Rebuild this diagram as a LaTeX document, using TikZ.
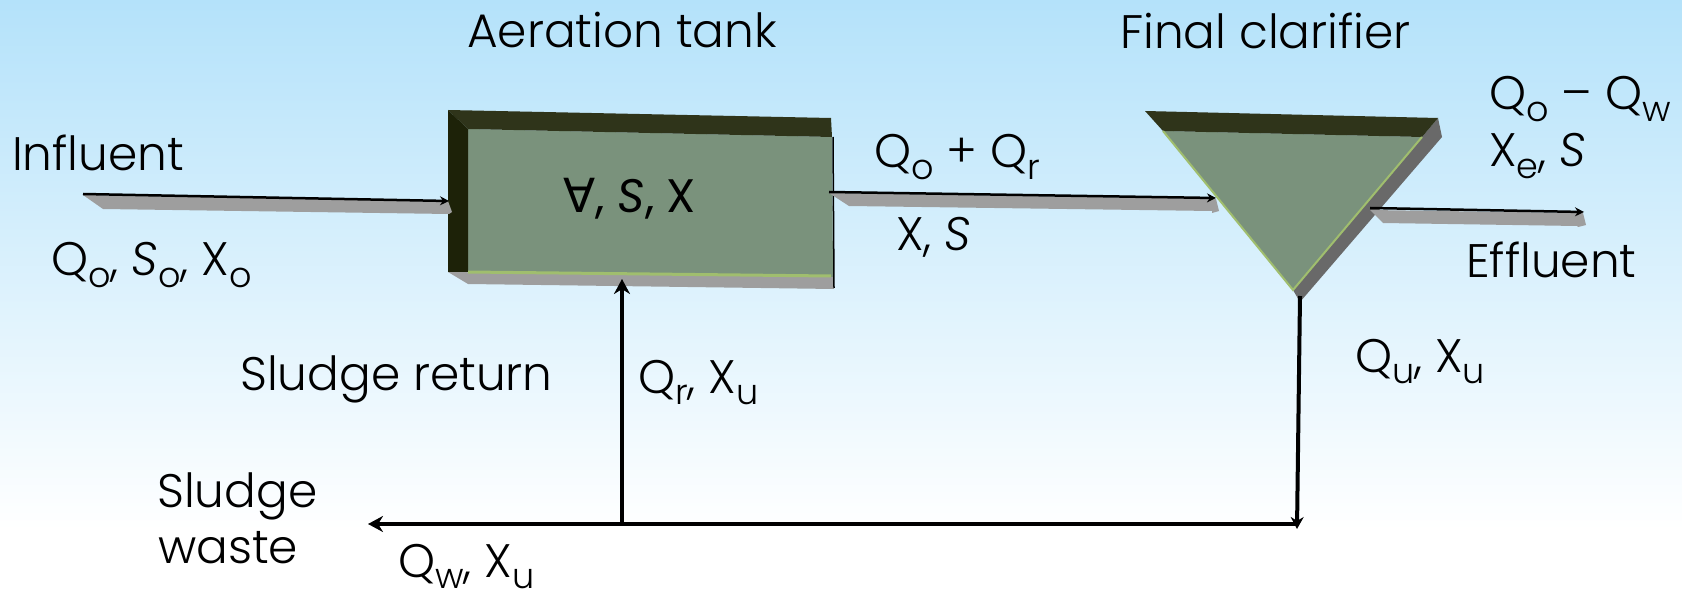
\documentclass[tikz,border=0pt]{standalone}
\usepackage{fontspec}
\setmainfont{Poppins}[UprightFont=* Light]
\newfontfamily\tankfont{Poppins}
\newfontfamily\allfont{DejaVu Sans}
\usepackage{tikz}
\usetikzlibrary{arrows.meta, calc}
\definecolor{skytop}{RGB}{180, 226, 250}
\definecolor{tankface}{RGB}{122, 146, 124}
\definecolor{tanktop}{RGB}{47, 52, 26}
\definecolor{tankside}{RGB}{29, 34, 8}
\definecolor{tankrim}{RGB}{160, 190, 110}
\definecolor{dropgray}{RGB}{158, 158, 158}
\definecolor{sidegray}{RGB}{105, 105, 105}
\newcommand{\lowtxt}[1]{\raisebox{-0.45ex}{\fontsize{35}{35}\selectfont #1}}
\tikzset{
  every node/.style={
    inner sep=0pt,
    anchor=base west,
    font=\fontsize{47}{47}\selectfont
  },
  thinflow/.style={
    -{Stealth[length=9pt,width=9pt]},
    line width=2.5pt,
    draw=black
  },
  thickflow/.style={
    -{Stealth[length=15pt,width=16pt]},
    line width=4pt,
    draw=black
  }
}

\begin{document}
\begin{tikzpicture}[x=1pt, y=-1pt]
  \useasboundingbox (0, 0) rectangle (1682, 596);
  % background
  \shade[top color=skytop, bottom color=white] (0, 0) rectangle (1682, 530);
  \fill[white] (0, 530) rectangle (1682, 596);

  % aeration tank
  \coordinate (tanktl) at (448, 110);
  \coordinate (tanktr) at (831, 118);
  \coordinate (tankbl) at (448, 272);
  \coordinate (tankbr) at (833, 277);
  \coordinate (tankil) at (468, 129);
  \coordinate (tankir) at (832, 137);
  \coordinate (tankjl) at (468, 272);
  \fill[dropgray] (tankbl) -- (468, 284) -- (834, 289) -- (tankbr) -- cycle;
  \fill[tankface] (tankil) -- (tankir) -- (tankbr) -- (tankjl) -- cycle;
  \fill[tanktop] (tanktl) -- (tanktr) -- (tankir) -- (tankil) -- cycle;
  \fill[tankside] (tanktl) -- (tankil) -- (tankjl) -- (tankbl) -- cycle;
  \draw[tankrim, line width=3pt] (tankjl) -- (831, 276);
  \draw[black, line width=1.5pt] (833, 137) -- (834, 288);

  % final clarifier
  \coordinate (clartl) at (1145, 111);
  \coordinate (clartr) at (1438, 118);
  \coordinate (clarapex) at (1293, 290);
  \coordinate (claril) at (1163, 131);
  \coordinate (clarir) at (1422, 137);
  \fill[sidegray] (clartr) -- (1442, 137) -- (1300, 302) -- (clarapex) -- (clarir) -- cycle;
  \fill[tankface] (claril) -- (clarir) -- (clarapex) -- cycle;
  \fill[tanktop] (clartl) -- (clartr) -- (clarir) -- (claril) -- cycle;
  \draw[tankrim, line width=2pt] (claril) -- (clarapex) -- (clarir);

  % shadows of the flows
  \fill[dropgray] (83, 195) -- (103, 209) -- (449, 214) -- (452, 212) -- (448, 201) -- cycle;
  \fill[dropgray] (829, 193) -- (849, 206) -- (1212, 211) -- (1212, 213) -- (1219, 211) -- (1216, 199) -- cycle;
  \fill[dropgray] (1370, 210) -- (1383, 223) -- (1577, 226) -- (1578, 227) -- (1586, 225) -- (1583, 213) -- cycle;

  \coordinate (influentend) at (83, 194);
  \coordinate (tankin) at (449, 201);
  \coordinate (tankout) at (829, 192);
  \coordinate (clarin) at (1216, 198);
  \coordinate (clarout) at (1370, 208);
  \coordinate (effluentend) at (1584, 212);
  \coordinate (clarbottom) at (1300, 296);
  \coordinate (wastejoin) at (1297, 529);
  \coordinate (wasteright) at (1297, 524);
  \coordinate (wasteend) at (368, 524);
  \coordinate (returnfoot) at (622, 524);
  \coordinate (tankfoot) at (622, 279);

  \draw[thinflow] (influentend) -- (tankin);
  \draw[thinflow] (tankout) -- (clarin);
  \draw[thinflow] (clarout) -- (effluentend);
  \draw[line width=4pt, -{Stealth[length=12pt,width=13pt]}] (clarbottom) -- (wastejoin);
  \draw[thickflow] (wasteright) -- (wasteend);
  \draw[thickflow] (returnfoot) -- (tankfoot);

  % labels
  \node (aeration) at (467, 48) {Aeration tank};
  \node (clarifier) at (1120, 49) {Final clarifier};
  \node (influent) at (12, 171) {Influent};
  \node (influentq) at (51, 276) {Q\lowtxt{o}, \textit{S}\lowtxt{o}, X\lowtxt{o}};
  \node[anchor=base] (tanklabel) at (630, 213) {\tankfont{\allfont ∀}, \textit{S}, X};
  \node (mixq) at (874, 168) {Q\lowtxt{o} + Q\lowtxt{r}};
  \node (mixx) at (896, 251) {X, \textit{S}};
  \node (outq) at (1489, 110) {Q\lowtxt{o} -- Q\lowtxt{w}};
  \node (outx) at (1489, 167) {X\lowtxt{e}, \textit{S}};
  \node (effluent) at (1466, 277) {Effluent};
  \node (underq) at (1355, 372) {Q\lowtxt{u}, X\lowtxt{u}};
  \node (sludgereturn) at (240, 390) {Sludge return};
  \node (returnq) at (638, 393) {Q\lowtxt{r}, X\lowtxt{u}};
  \node (sludge) at (157, 507) {Sludge};
  \node (waste) at (158, 563) {waste};
  \node (wasteq) at (398, 577) {Q\lowtxt{w}, X\lowtxt{u}};
\end{tikzpicture}
\end{document}
